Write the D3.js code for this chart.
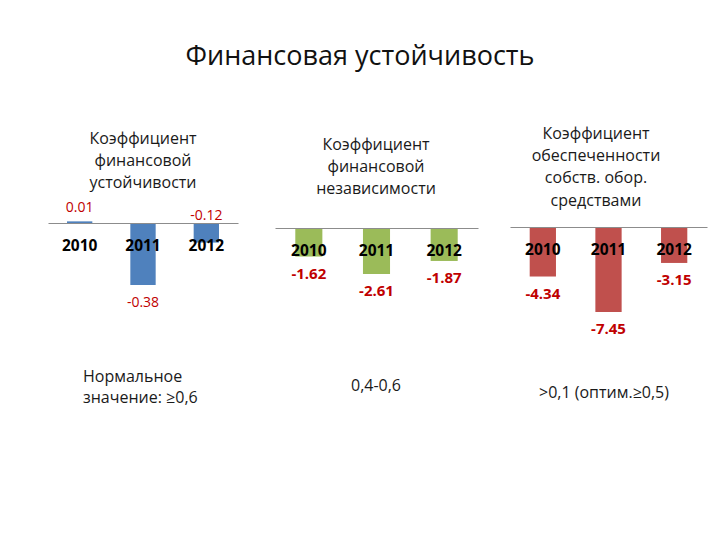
<!DOCTYPE html>
<html>
<head>
<meta charset="utf-8">
<script src="https://cdn.jsdelivr.net/npm/d3@7"></script>
<style>
  body { margin: 0; background: #fff; }
  text { font-family: "Open Sans", "Noto Sans", sans-serif; }
</style>
</head>
<body>
<svg id="chart" width="720" height="540"></svg>
<script>
// Chart data
var years = ["2010", "2011", "2012"];
var stabilityValues = [0.01, -0.38, -0.12];
var independenceValues = [-1.62, -2.61, -1.87];
var ownFundsValues = [-4.34, -7.45, -3.15];

var mainTitle = "Финансовая устойчивость";
var panelTitles = [
  ["Коэффициент", "финансовой", "устойчивости"],
  ["Коэффициент", "финансовой", "независимости"],
  ["Коэффициент", "обеспеченности", "собств. обор.", "средствами"]
];
var panelNotes = [
  ["Нормальное", "значение: ≥0,6"],
  ["0,4-0,6"],
  [">0,1 (оптим.≥0,5)"]
];

// Layout for each of the three small charts
var panels = [
  { values: stabilityValues, color: "#4f81bd", x0: 48, x1: 238, zeroY: 223, minY: 285,
    titleX: 143, titleY: 138, noteX: 83, noteY: 376, noteAnchor: "start", labelWeight: "normal", labelSize: "14px" },
  { values: independenceValues, color: "#9bbb59", x0: 275, x1: 478, zeroY: 228, minY: 274,
    titleX: 376, titleY: 144, noteX: 376, noteY: 385, noteAnchor: "middle", labelWeight: "bold", labelSize: "15px" },
  { values: ownFundsValues, color: "#c0504d", x0: 510, x1: 707, zeroY: 227, minY: 312,
    titleX: 596, titleY: 133, noteX: 604, noteY: 392, noteAnchor: "middle", labelWeight: "bold", labelSize: "15px" }
];

var svg = d3.select("#chart");

svg.append("text")
  .attr("x", 360)
  .attr("y", 54)
  .attr("text-anchor", "middle")
  .attr("dominant-baseline", "central")
  .style("font-size", "27px")
  .style("fill", "#111")
  .text(mainTitle);

panels.forEach(function(p, i) {
  var g = svg.append("g");

  var xScale = d3.scaleBand()
    .domain(years)
    .range([p.x0, p.x1])
    .paddingInner(0.6)
    .paddingOuter(0.3);

  var yScale = d3.scaleLinear()
    .domain([d3.min(p.values), 0])
    .range([p.minY, p.zeroY]);

  var rows = years.map(function(y, j) { return { year: y, value: p.values[j] }; });

  // bars
  g.selectAll("rect")
    .data(rows)
    .enter()
    .append("rect")
    .attr("x", d => xScale(d.year))
    .attr("width", xScale.bandwidth())
    .attr("y", d => Math.min(yScale(d.value), yScale(0)))
    .attr("height", d => Math.abs(yScale(d.value) - yScale(0)))
    .attr("fill", p.color);

  // category axis
  var axis = d3.axisBottom(xScale).tickSize(0).tickSizeOuter(0).tickFormat("");
  var axisG = g.append("g")
    .attr("transform", "translate(0," + yScale(0) + ")")
    .call(axis);
  axisG.select(".domain").attr("stroke", "#8c8c8c").attr("stroke-width", 1.2);

  // year labels
  g.selectAll(".year")
    .data(rows)
    .enter()
    .append("text")
    .attr("class", "year")
    .attr("x", d => xScale(d.year) + xScale.bandwidth() / 2)
    .attr("y", yScale(0) + 22)
    .attr("text-anchor", "middle")
    .attr("dominant-baseline", "central")
    .style("font-size", "15.5px")
    .style("font-weight", "bold")
    .style("fill", "#000")
    .text(d => d.year);

  // value labels: below the bar end, or above the axis when the bar is too short
  g.selectAll(".value")
    .data(rows)
    .enter()
    .append("text")
    .attr("class", "value")
    .attr("x", d => xScale(d.year) + xScale.bandwidth() / 2)
    .attr("y", function(d) {
      var len = yScale(0) - yScale(d.value);
      if (d.value >= 0) return yScale(d.value) - 15;
      if (-len < 22) return yScale(0) - 9;
      return yScale(d.value) + 16;
    })
    .attr("text-anchor", "middle")
    .attr("dominant-baseline", "central")
    .style("font-size", p.labelSize)
    .style("font-weight", p.labelWeight)
    .style("fill", "#c00000")
    .text(d => d.value.toFixed(2));

  // panel title
  g.append("text")
    .attr("x", p.titleX)
    .attr("y", p.titleY)
    .attr("text-anchor", "middle")
    .style("font-size", "16px")
    .style("fill", "#1a1a1a")
    .selectAll("tspan")
    .data(panelTitles[i])
    .enter()
    .append("tspan")
    .attr("x", p.titleX)
    .attr("dy", (d, k) => k === 0 ? "0.35em" : "22.3px")
    .text(d => d);

  // normal value note
  g.append("text")
    .attr("x", p.noteX)
    .attr("y", p.noteY)
    .attr("text-anchor", p.noteAnchor)
    .style("font-size", "16px")
    .style("fill", "#1a1a1a")
    .selectAll("tspan")
    .data(panelNotes[i])
    .enter()
    .append("tspan")
    .attr("x", p.noteX)
    .attr("dy", (d, k) => k === 0 ? "0.35em" : "21px")
    .text(d => d);
});
</script>
</body>
</html>
